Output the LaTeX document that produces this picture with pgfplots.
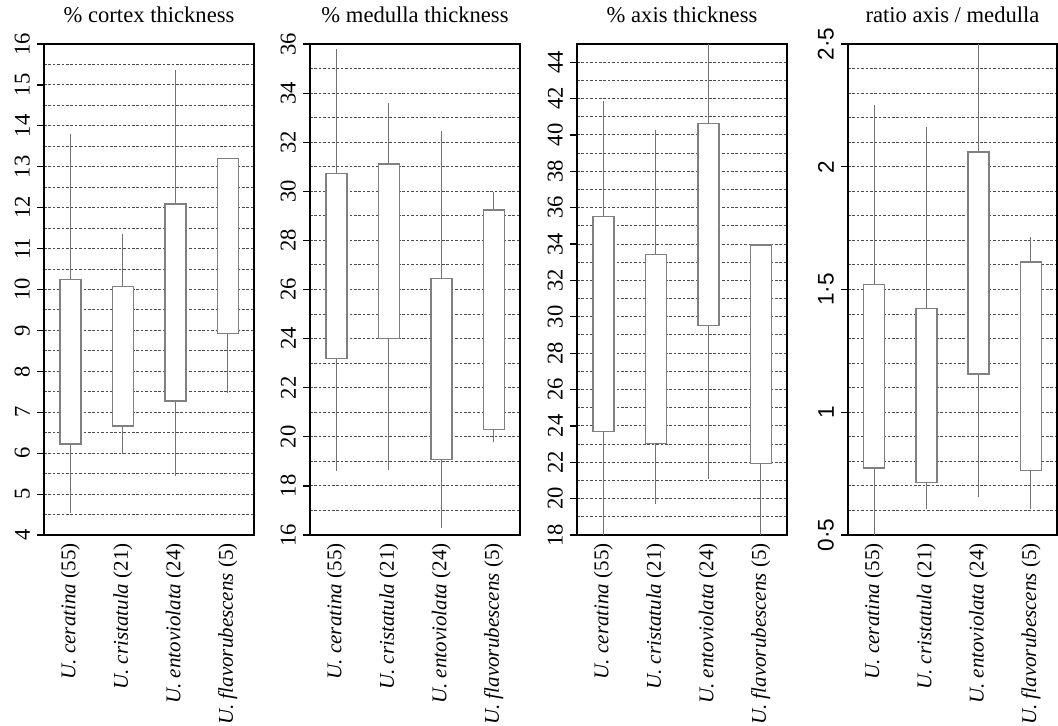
\documentclass[border=0pt]{standalone}
\usepackage{fontspec}
\setmainfont{Liberation Serif}
\setsansfont{Liberation Sans}
\usepackage{pgfplots}
\pgfplotsset{compat=1.18}
\usepgfplotslibrary{statistics}

\newcommand{\fs}{\fontsize{10.5}{12}\selectfont}
\newcommand{\ft}{\fontsize{11.3}{13}\selectfont}

\pgfplotsset{
  panel/.style={
    scale only axis, width=105pt, height=245.5pt,
    anchor=south west,
    xmin=0.5, xmax=4.5,
    xtick={1,2,3,4},
    xticklabels={{\textit{U. ceratina} (55)},{\textit{U. cristatula} (21)},{\textit{U. entoviolata} (24)},{\textit{U. flavorubescens} (5)}},
    x tick style={draw=none},
    xticklabel style={rotate=90, anchor=east, font=\fs, inner sep=0.5pt},
    yticklabel style={rotate=90, anchor=south, font=\ft},
    ytick pos=left,
    /pgf/number format/assume math mode=true,
    tick align=outside, major tick length=3.5pt, minor tick length=0pt,
    y tick style={black, line width=0.6pt},
    axis line style={black, line width=1pt},
    ymajorgrids, yminorgrids,
    major grid style={black!70, line width=0.5pt, dash pattern=on 1.3pt off 0.9pt},
    minor grid style={black!70, line width=0.5pt, dash pattern=on 1.3pt off 0.9pt},
    title style={font=\ft, yshift=1pt},
    boxplot/draw direction=y,
    boxplot/box extend=0.4,
    boxplot/whisker extend=0,
    boxplot/every median/.style={draw=none},
    boxplot/every whisker/.style={draw=black!55, line width=0.6pt},
    boxplot/every box/.style={draw=black!50, fill=white, line width=0.75pt},
  },
  bx/.style={draw=black!50, fill=white, line width=0.75pt, solid},
}

\begin{document}
\begin{tikzpicture}
\useasboundingbox (0,0) rectangle (529pt,-362.5pt);

% Panel 1: % cortex thickness
\begin{axis}[panel, at={(22pt,-267.5pt)},
  title={\% cortex thickness},
  ymin=4, ymax=16, ytick={4,5,...,16}, minor y tick num=1]
\addplot[bx, boxplot prepared={draw position=1, lower whisker=4.55, lower quartile=6.22, median=8, upper quartile=10.25, upper whisker=13.8}] coordinates {};
\addplot[bx, boxplot prepared={draw position=2, lower whisker=5.98, lower quartile=6.67, median=8, upper quartile=10.07, upper whisker=11.35}] coordinates {};
\addplot[bx, boxplot prepared={draw position=3, lower whisker=5.45, lower quartile=7.28, median=9, upper quartile=12.09, upper whisker=15.37}] coordinates {};
\addplot[bx, boxplot prepared={draw position=4, lower whisker=7.47, lower quartile=8.93, median=11, upper quartile=13.2, upper whisker=13.2}] coordinates {};
\end{axis}

% Panel 2: % medulla thickness
\begin{axis}[panel, at={(155pt,-267.5pt)},
  title={\% medulla thickness},
  ymin=16, ymax=36, ytick={16,18,...,36}, minor y tick num=1]
\addplot[bx, boxplot prepared={draw position=1, lower whisker=18.59, lower quartile=23.2, median=27, upper quartile=30.73, upper whisker=35.8}] coordinates {};
\addplot[bx, boxplot prepared={draw position=2, lower whisker=18.65, lower quartile=24.0, median=27, upper quartile=31.11, upper whisker=33.61}] coordinates {};
\addplot[bx, boxplot prepared={draw position=3, lower whisker=16.27, lower quartile=19.07, median=22, upper quartile=26.44, upper whisker=32.46}] coordinates {};
\addplot[bx, boxplot prepared={draw position=4, lower whisker=19.78, lower quartile=20.29, median=25, upper quartile=29.24, upper whisker=29.98}] coordinates {};
\end{axis}

% Panel 3: % axis thickness
\begin{axis}[panel, at={(288.5pt,-267.5pt)},
  title={\% axis thickness},
  ymin=18, ymax=45, ytick={18,20,...,44}, minor y tick num=1]
\addplot[bx, boxplot prepared={draw position=1, lower whisker=18, lower quartile=23.7, median=30, upper quartile=35.51, upper whisker=41.85}] coordinates {};
\addplot[bx, boxplot prepared={draw position=2, lower whisker=19.7, lower quartile=23.04, median=28, upper quartile=33.42, upper whisker=40.28}] coordinates {};
\addplot[bx, boxplot prepared={draw position=3, lower whisker=21.08, lower quartile=29.51, median=35, upper quartile=40.64, upper whisker=45}] coordinates {};
\addplot[bx, boxplot prepared={draw position=4, lower whisker=18, lower quartile=21.94, median=28, upper quartile=33.95, upper whisker=33.95}] coordinates {};
\end{axis}

% Panel 4: ratio axis / medulla
\begin{axis}[panel, at={(424pt,-267.5pt)}, width=104.5pt,
  title={ratio axis / medulla},
  ymin=0.5, ymax=2.5, ytick={0.5,1,1.5,2,2.5},
  yticklabels={0·5,1,1·5,2,2·5},
  yticklabel style={font=\sffamily\ft},
  minor y tick num=4]
\addplot[bx, boxplot prepared={draw position=1, lower whisker=0.5, lower quartile=0.774, median=1.1, upper quartile=1.52, upper whisker=2.25}] coordinates {};
\addplot[bx, boxplot prepared={draw position=2, lower whisker=0.605, lower quartile=0.713, median=1.0, upper quartile=1.423, upper whisker=2.163}] coordinates {};
\addplot[bx, boxplot prepared={draw position=3, lower whisker=0.653, lower quartile=1.156, median=1.6, upper quartile=2.06, upper whisker=2.5}] coordinates {};
\addplot[bx, boxplot prepared={draw position=4, lower whisker=0.605, lower quartile=0.762, median=1.2, upper quartile=1.613, upper whisker=1.713}] coordinates {};
\end{axis}
\end{tikzpicture}
\end{document}
